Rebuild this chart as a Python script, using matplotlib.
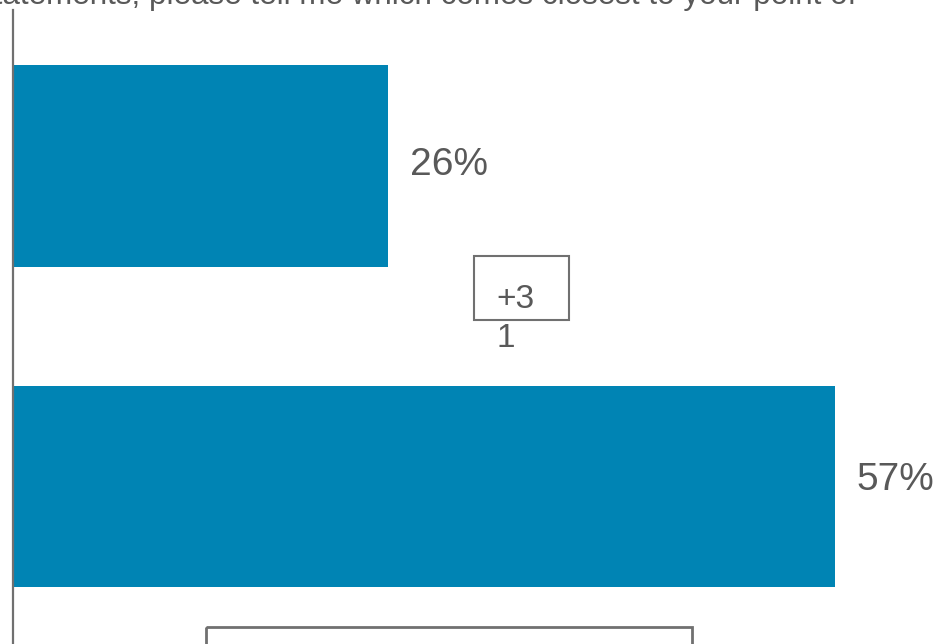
import matplotlib
matplotlib.use('Agg')
import matplotlib.pyplot as plt
from matplotlib.patches import Rectangle

plt.rcParams['font.family'] = ['Liberation Sans', 'DejaVu Sans']

# --- data ---
categories = ['Statement A', 'Statement B']
values = [26, 57]
labels = ['26%', '57%']
diff_label = '+3\n1'   # +31 gap, wrapped in the source box
question = 'statements, please tell me which comes closest to your point of'

bar_color = '#0084B4'
text_color = '#595959'
line_color = '#707070'

W, H = 947, 644
fig = plt.figure(figsize=(W / 100, H / 100), dpi=100)
ax = fig.add_axes([0, 0, 1, 1])

# pixel mapping: x=0 at px 13, 14.42 px per percent; bar rows 320.5 px apart
x0_px, x_scale = 13, 14.42
y0_px, y_scale = 166, 320.5
ax.set_xlim(-x0_px / x_scale, (W - x0_px) / x_scale)
ax.set_ylim((H - y0_px) / y_scale, -y0_px / y_scale)
ax.axis('off')

pos = list(range(len(categories)))
ax.barh(pos, values, height=0.63, color=bar_color, zorder=2)

# small vertical nudges so the labels sit like the source
label_dy = [-0.002, -0.02]
for p, v, lab, dy in zip(pos, values, labels, label_dy):
    ax.text(v + 1.5, p + dy, lab, fontsize=28, color=text_color,
            va='center', ha='left')

# left axis line
ax.plot([0, 0], [-0.487, 1.6], color=line_color, lw=1.6, clip_on=True, zorder=3)

# difference box between bars
ax.add_patch(Rectangle((31.97, 0.281), 38.56 - 31.97, 0.480 - 0.281,
                       fill=False, edgecolor=line_color, lw=1.5, zorder=3))
ax.text(33.5, 0.368, diff_label, fontsize=24, color=text_color,
        va='top', ha='left', linespacing=1.32)

# bottom box (cut off by the frame)
ax.add_patch(Rectangle((13.38, 1.438), 47.09 - 13.38, 0.5,
                       fill=False, edgecolor=line_color, lw=2, zorder=3))

# question text, cut off at the top like the source
fig.text(856 / W, 1 - 4 / H, question, fontsize=22.6, color=text_color,
         ha='right', va='baseline')

fig.savefig('out.png', dpi=100)
